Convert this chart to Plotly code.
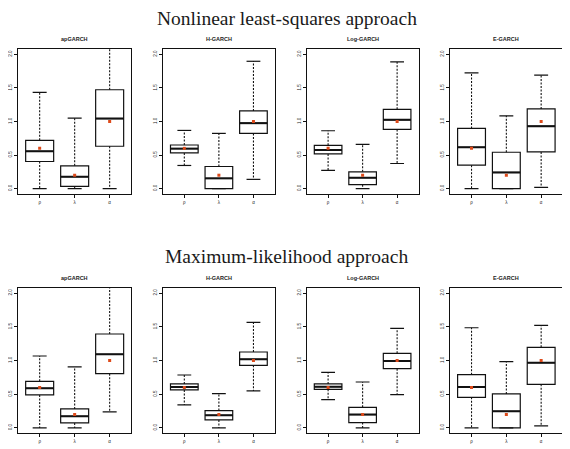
import plotly.graph_objects as go

# the page puts the figure 8 px in from the top-left corner, so the figure is
# drawn 8 px smaller and every pixel position below is shifted by OFF
OFF = 8
W, H = 570 - OFF, 449 - OFF

models = ["apGARCH", "H-GARCH", "Log-GARCH", "E-GARCH"]
params = ["ρ", "λ", "α"]
true_values = [0.6, 0.2, 1.0]

# box statistics per panel: one value per parameter (rho, lambda, alpha)
# nonlinear least-squares
nls_lower = [[0.00, 0.00, 0.00], [0.345, 0.00, 0.138], [0.271, 0.00, 0.374], [0.00, 0.00, 0.02]]
nls_q1 = [[0.404, 0.034, 0.631], [0.532, 0.00, 0.823], [0.517, 0.059, 0.882], [0.350, 0.00, 0.547]]
nls_median = [[0.557, 0.177, 1.044], [0.596, 0.153, 0.975], [0.576, 0.163, 1.025], [0.616, 0.241, 0.931]]
nls_q3 = [[0.719, 0.340, 1.473], [0.650, 0.330, 1.158], [0.645, 0.251, 1.182], [0.897, 0.542, 1.187]]
nls_upper = [[1.433, 1.049, 2.50], [0.867, 0.823, 1.897], [0.862, 0.660, 1.887], [1.724, 1.084, 1.690]]

# maximum likelihood
ml_lower = [[0.00, 0.00, 0.237], [0.341, 0.00, 0.548], [0.420, 0.00, 0.494], [0.00, 0.00, 0.030]]
ml_q1 = [[0.489, 0.074, 0.805], [0.563, 0.119, 0.928], [0.573, 0.079, 0.879], [0.454, 0.00, 0.647]]
ml_median = [[0.588, 0.173, 1.091], [0.607, 0.188, 1.017], [0.612, 0.198, 0.993], [0.607, 0.247, 0.968]]
ml_q3 = [[0.691, 0.281, 1.393], [0.652, 0.257, 1.126], [0.652, 0.306, 1.106], [0.790, 0.504, 1.195]]
ml_upper = [[1.067, 0.904, 2.40], [0.785, 0.509, 1.565], [0.825, 0.681, 1.477], [1.486, 0.983, 1.521]]

sections = [
    ("Nonlinear least-squares approach", nls_lower, nls_q1, nls_median, nls_q3, nls_upper),
    ("Maximum-likelihood approach", ml_lower, ml_q1, ml_median, ml_q3, ml_upper),
]

# panel frames in window pixels
panel_left = [15, 160.7, 305.3, 449.3]
panel_right = [129, 273.3, 417.7, 562.7]
row_top = [49, 287.7]
row_bottom = [194, 433.3]
section_title_y = [19, 256]
panel_title_y = [39, 277.7]


def px_x(v):
    return (v - OFF) / W


def px_y(v):
    return 1 - (v - OFF) / H


BW = 0.8   # box width
SW = 0.4   # staple width
LINE = "#111111"

fig = go.Figure()
annotations = []
pos = [1, 2, 3]

for r, (sec_title, lower, q1, med, q3, upper) in enumerate(sections):
    annotations.append(dict(text=sec_title, x=px_x(285), y=px_y(section_title_y[r]),
                            xref="paper", yref="paper", showarrow=False,
                            xanchor="center", yanchor="middle",
                            font=dict(family="Liberation Serif", size=19.5, color="#1a1a1a")))
    for c, model in enumerate(models):
        k = r * 4 + c + 1
        xa = "x" if k == 1 else "x%d" % k
        ya = "y" if k == 1 else "y%d" % k

        # whiskers (dashed), staples and thick median bars
        wx, wy, sx, sy, mx, my = [], [], [], [], [], []
        for i, p in enumerate(pos):
            wx += [p, p, None, p, p, None]
            wy += [q3[c][i], upper[c][i], None, q1[c][i], lower[c][i], None]
            sx += [p - SW / 2, p + SW / 2, None, p - SW / 2, p + SW / 2, None]
            sy += [upper[c][i], upper[c][i], None, lower[c][i], lower[c][i], None]
            mx += [p - BW / 2, p + BW / 2, None]
            my += [med[c][i], med[c][i], None]

        fig.add_trace(go.Scatter(x=wx, y=wy, mode="lines", xaxis=xa, yaxis=ya,
                                 line=dict(color=LINE, width=1.1, dash="2px,1.5px"),
                                 showlegend=False, hoverinfo="skip"))
        fig.add_trace(go.Scatter(x=sx, y=sy, mode="lines", xaxis=xa, yaxis=ya,
                                 line=dict(color=LINE, width=1.2),
                                 showlegend=False, hoverinfo="skip"))
        fig.add_trace(go.Box(x=pos, q1=q1[c], median=med[c], q3=q3[c],
                             lowerfence=q1[c], upperfence=q3[c], width=BW,
                             xaxis=xa, yaxis=ya, fillcolor="white",
                             line=dict(color=LINE, width=1.2),
                             boxpoints=False, showlegend=False))
        fig.add_trace(go.Scatter(x=mx, y=my, mode="lines", xaxis=xa, yaxis=ya,
                                 line=dict(color=LINE, width=2),
                                 showlegend=False, hoverinfo="skip"))
        fig.add_trace(go.Scatter(x=pos, y=true_values, mode="markers", xaxis=xa, yaxis=ya,
                                 marker=dict(symbol="square", size=3, color="#dd4a1a"),
                                 showlegend=False))

        xdom = [px_x(panel_left[c]), px_x(panel_right[c])]
        ydom = [px_y(row_bottom[r]), px_y(row_top[r])]
        axis_common = dict(showline=True, mirror=True, linecolor=LINE, linewidth=1.2,
                           showgrid=False, zeroline=False, ticks="outside", ticklen=3,
                           tickwidth=0.8, tickcolor=LINE,
                           tickfont=dict(family="Liberation Sans", size=4.5, color="#222222"))
        fig.layout[xa.replace("x", "xaxis")] = dict(
            domain=xdom, range=[0.38, 3.62], anchor=ya,
            tickvals=pos, ticktext=params, **axis_common)
        fig.layout[ya.replace("y", "yaxis")] = dict(
            domain=ydom, range=[-0.08, 2.08], anchor=xa,
            tickvals=[0, 0.5, 1, 1.5, 2], ticktext=["0.0", "0.5", "1.0", "1.5", "2.0"],
            tickangle=-90, **axis_common)

        annotations.append(dict(text="<b>%s</b>" % model,
                                x=px_x((panel_left[c] + panel_right[c]) / 2),
                                y=px_y(panel_title_y[r]),
                                xref="paper", yref="paper", showarrow=False,
                                xanchor="center", yanchor="middle",
                                font=dict(family="Liberation Sans", size=5.5, color="#222222")))

fig.update_layout(width=W, height=H, margin=dict(l=0, r=0, t=0, b=0),
                  paper_bgcolor="white", plot_bgcolor="white",
                  annotations=annotations)

fig.write_html("out.html")
